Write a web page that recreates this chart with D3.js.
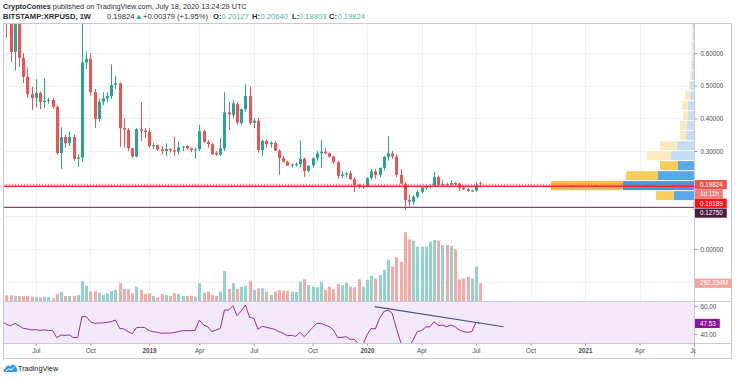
<!DOCTYPE html>
<html>
<head>
<meta charset="utf-8">
<script src="https://d3js.org/d3.v7.min.js"></script>
<style>
body { margin: 0; background: #fff; }
svg { display: block; font-family: "Liberation Sans", Arial, sans-serif; }
text { white-space: pre; }
</style>
</head>
<body>
<script>
// weekly XRPUSD bars (Bitstamp), first bar is the week of 2018-05-07
var firstWeek = "2018-05-07";
var opens = [0.86,0.78,0.70,0.603,0.70,0.585,0.527,0.474,0.462,0.478,
    0.45,0.454,0.457,0.435,0.294,0.343,0.324,0.343,0.276,0.28,
    0.571,0.582,0.48,0.398,0.451,0.461,0.468,0.502,0.507,0.37,
    0.365,0.308,0.283,0.367,0.362,0.358,0.315,0.318,0.305,0.300,
    0.306,0.302,0.298,0.311,0.315,0.308,0.303,0.305,0.361,0.328,
    0.321,0.295,0.289,0.308,0.418,0.41,0.443,0.385,0.428,0.468,
    0.386,0.393,0.303,0.331,0.321,0.325,0.301,0.278,0.267,0.255,
    0.258,0.26,0.276,0.239,0.256,0.278,0.293,0.298,0.293,0.283,
    0.266,0.224,0.228,0.232,0.213,0.196,0.19,0.193,0.217,0.237,
    0.227,0.248,0.282,0.293,0.283,0.227,0.20,0.15,0.145,0.16,
    0.175,0.188,0.19,0.193,0.22,0.196,0.199,0.197,0.202,0.20,
    0.188,0.183,0.178,0.179,0.20127];
var highs = [0.92,0.80,0.74,0.75,0.72,0.60,0.555,0.497,0.52,0.482,
    0.523,0.462,0.462,0.44,0.373,0.35,0.36,0.35,0.29,0.78,
    0.604,0.60,0.49,0.46,0.48,0.48,0.565,0.53,0.51,0.40,
    0.37,0.31,0.37,0.45,0.37,0.37,0.325,0.32,0.315,0.324,
    0.31,0.343,0.33,0.315,0.318,0.31,0.31,0.38,0.365,0.334,
    0.325,0.30,0.34,0.48,0.45,0.455,0.45,0.43,0.505,0.497,
    0.40,0.40,0.335,0.335,0.33,0.33,0.305,0.285,0.27,0.262,
    0.265,0.331,0.28,0.25,0.28,0.30,0.334,0.31,0.295,0.285,
    0.27,0.238,0.235,0.24,0.22,0.20,0.198,0.22,0.245,0.245,
    0.25,0.285,0.346,0.30,0.29,0.245,0.205,0.165,0.165,0.18,
    0.19,0.195,0.198,0.236,0.225,0.21,0.203,0.21,0.205,0.203,
    0.19,0.186,0.182,0.205,0.2064];
var lows = [0.76,0.646,0.573,0.546,0.557,0.508,0.462,0.425,0.434,0.428,
    0.432,0.445,0.43,0.288,0.245,0.31,0.315,0.27,0.252,0.267,
    0.55,0.47,0.371,0.39,0.44,0.45,0.46,0.49,0.313,0.31,
    0.30,0.28,0.28,0.33,0.34,0.31,0.305,0.30,0.29,0.285,
    0.295,0.285,0.29,0.30,0.305,0.296,0.276,0.30,0.325,0.31,
    0.288,0.285,0.285,0.30,0.364,0.40,0.38,0.38,0.42,0.38,
    0.37,0.295,0.285,0.31,0.31,0.30,0.227,0.265,0.255,0.25,
    0.252,0.25,0.22,0.235,0.25,0.27,0.248,0.29,0.28,0.26,
    0.215,0.215,0.22,0.212,0.175,0.185,0.185,0.19,0.212,0.215,
    0.22,0.24,0.27,0.275,0.22,0.20,0.119,0.13,0.135,0.155,
    0.17,0.18,0.185,0.19,0.19,0.19,0.19,0.192,0.195,0.178,
    0.18,0.175,0.175,0.176,0.18803];
var closes = [0.78,0.70,0.603,0.70,0.585,0.527,0.474,0.462,0.478,0.45,
    0.454,0.457,0.435,0.294,0.343,0.324,0.343,0.276,0.28,0.571,
    0.582,0.48,0.398,0.451,0.461,0.468,0.502,0.507,0.37,0.365,
    0.308,0.283,0.367,0.362,0.358,0.315,0.318,0.305,0.300,0.306,
    0.302,0.298,0.311,0.314,0.308,0.303,0.305,0.361,0.328,0.321,
    0.29,0.289,0.308,0.418,0.412,0.446,0.387,0.428,0.468,0.386,
    0.393,0.303,0.331,0.321,0.325,0.301,0.278,0.267,0.255,0.258,
    0.26,0.276,0.239,0.256,0.278,0.293,0.298,0.293,0.283,0.266,
    0.224,0.228,0.232,0.213,0.196,0.19,0.193,0.217,0.237,0.227,
    0.248,0.282,0.293,0.283,0.227,0.20,0.15,0.145,0.16,0.175,
    0.188,0.19,0.193,0.22,0.196,0.199,0.197,0.202,0.20,0.188,
    0.183,0.178,0.179,0.19445,0.19824];
// weekly volume, millions
var volumes = [127,94,94,83,83,77,83,72,66,61,
    72,66,44,116,149,83,83,88,99,330,
    253,160,160,138,99,127,165,182,292,198,
    193,127,237,182,116,127,83,55,116,99,
    83,127,116,83,83,88,72,292,138,154,
    99,83,154,495,198,292,198,237,248,336,
    182,209,209,154,99,154,182,171,165,154,
    149,319,358,264,237,226,319,182,237,193,
    281,264,303,237,226,358,237,347,413,374,
    429,512,677,567,721,649,1133,1018,996,897,
    897,897,979,1007,996,924,924,908,853,358,
    374,402,374,567,292.234];
var rsiValues = [48.8,46.9,46.0,47.6,46.0,44.0,43.6,42.9,43.1,42.6,
    42.9,42.6,42.4,37.4,39.3,39.0,39.3,37.4,37.6,52.4,
    52.4,48.8,47.6,47.9,47.9,48.3,48.8,50.0,44.0,43.6,
    41.7,40.2,44.5,44.8,44.5,42.4,41.7,41.2,40.5,40.7,
    40.7,41.0,41.7,42.4,42.4,42.4,42.6,50.0,46.4,45.2,
    41.7,42.9,44.0,57.1,57.1,60.2,53.1,56.4,60.7,51.9,
    51.2,43.3,45.5,44.8,44.0,43.3,41.7,40.5,38.8,39.0,
    38.3,41.2,38.1,41.2,44.5,47.6,47.6,46.4,45.2,42.9,
    37.4,37.6,38.1,36.2,36.2,32.6,32.1,39.3,44.0,43.6,
    51.2,56.0,57.1,54.8,44.0,34.5,27.4,31.0,35.7,41.7,
    42.4,45.0,45.2,48.8,46.0,46.4,45.2,46.4,45.2,42.9,
    41.7,41.2,41.7,48.3,47.53];

// visible range volume profile: rows from the bottom price upward
var profileBottom = 0.1175, profileStep = 0.0306;
var profileUp = [1,20,71,36,16,23,17,8,7.3,6,6,4,3,2,2,1.5,1.5,1,1,1,0.5,0.5,0.5,0.5];
var profileDown = [1,18,72,32,18,24,17,6,6.7,5,6,5,2,1.5,1,1,1,0.8,0.6,0.5,0.4,0.3,0.3,0.3];
var valueArea = [1, 4];

var timeTicks = [["2018-07-02","Jul"],["2018-10-01","Oct"],["2019-01-07","2019"],["2019-04-01","Apr"],
    ["2019-07-01","Jul"],["2019-10-07","Oct"],["2020-01-06","2020"],["2020-04-06","Apr"],
    ["2020-07-06","Jul"],["2020-10-05","Oct"],["2021-01-04","2021"],["2021-04-05","Apr"],["2021-07-05","Jul"]];
var priceTicks = [0.6, 0.5, 0.4, 0.3, 0.0];
var gridPrices = [0.6, 0.5, 0.4, 0.3, 0.2, 0.1, 0.0, -0.1];
var rsiTicks = [60, 40];
var alertLevel = 0.19189, supportLevel = 0.1275;
var trendPoints = [["2020-01-19", 59.5], ["2020-08-21", 45.2]];
var countdown = "1d 11h";

var upColor = "#26a69a", downColor = "#ef5350";
var plotL = 3, plotR = 694, axisEnd = 731, plotT = 23, mainB = 301, rsiB = 343, frameB = 358;

var parseDate = d3.utcParse("%Y-%m-%d");
var start = parseDate(firstWeek);
var bars = closes.map(function(c, i) {
    return { date: d3.utcDay.offset(start, 7 * i), o: opens[i], h: highs[i], l: lows[i], c: c,
        v: volumes[i], rsi: rsiValues[i] };
});

var x = d3.scaleUtc()
    .domain([parseDate("2019-01-07"), parseDate("2020-01-06")])
    .range([149, 367]);
var y = d3.scaleLinear().domain([0.3, 0.6]).range([151, 53]);
var yVol = d3.scaleLinear().domain([0, 1150]).range([mainB, 231.3]);
var yRsi = d3.scaleLinear().domain([40, 60]).range([334, 306]);
var wProf = d3.scaleLinear().domain([0, 143]).range([0, 143]);

var svg = d3.select("body").append("svg")
    .attr("width", 736)
    .attr("height", 379);

var defs = svg.append("defs");
defs.append("clipPath").attr("id", "clipMain").append("rect")
    .attr("x", plotL).attr("y", plotT).attr("width", plotR - plotL).attr("height", mainB - plotT);
defs.append("clipPath").attr("id", "clipRsi").append("rect")
    .attr("x", plotL).attr("y", mainB).attr("width", plotR - plotL).attr("height", rsiB - mainB);
defs.append("clipPath").attr("id", "clipTime").append("rect")
    .attr("x", plotL).attr("y", rsiB).attr("width", plotR + 2 - plotL).attr("height", frameB - rsiB);

// RSI band background
svg.append("g").attr("clip-path", "url(#clipRsi)")
    .append("rect")
    .attr("x", plotL).attr("width", plotR - plotL)
    .attr("y", yRsi(70)).attr("height", yRsi(30) - yRsi(70))
    .attr("fill", "#f3e8fc");

// grid
var grid = svg.append("g").attr("stroke", "#eef0f5").attr("stroke-width", 1);
grid.selectAll("line.v")
    .data(timeTicks.filter(function(d) { return x(parseDate(d[0])) < plotR - 2; }))
    .enter()
    .append("line")
    .attr("x1", function(d) { return Math.round(x(parseDate(d[0]))) + 0.5; })
    .attr("x2", function(d) { return Math.round(x(parseDate(d[0]))) + 0.5; })
    .attr("y1", plotT).attr("y2", rsiB);
grid.selectAll("line.h")
    .data(gridPrices)
    .enter()
    .append("line")
    .attr("x1", plotL).attr("x2", plotR)
    .attr("y1", function(d) { return Math.round(y(d)) + 0.5; })
    .attr("y2", function(d) { return Math.round(y(d)) + 0.5; });

var main = svg.append("g").attr("clip-path", "url(#clipMain)");

// volume
main.selectAll("rect.vol")
    .data(bars)
    .enter()
    .append("rect")
    .attr("x", function(d) { return Math.round(x(d.date)) - 1; })
    .attr("width", 3)
    .attr("y", function(d) { return yVol(d.v); })
    .attr("height", function(d) { return mainB - yVol(d.v); })
    .attr("fill", function(d) { return d.c >= d.o ? "#92d3cd" : "#f7a9a7"; });

// volume profile, anchored to the right edge
var rows = profileUp.map(function(u, i) {
    return { lo: profileBottom + i * profileStep, hi: profileBottom + (i + 1) * profileStep,
        up: u, down: profileDown[i], inVA: i >= valueArea[0] && i <= valueArea[1], poc: i == 2 };
});
main.selectAll("rect.pu")
    .data(rows)
    .enter()
    .append("rect")
    .attr("x", function(d) { return plotR - wProf(d.up); })
    .attr("width", function(d) { return wProf(d.up); })
    .attr("y", function(d) { return y(d.hi) + 0.5; })
    .attr("height", function(d) { return y(d.lo) - y(d.hi) - 1; })
    .attr("fill", function(d) {
        if (d.poc) return "#4b94df";
        return d.inVA ? "#5aa8ec" : "#c3def6";
    });
main.selectAll("rect.pd")
    .data(rows)
    .enter()
    .append("rect")
    .attr("x", function(d) { return plotR - wProf(d.up) - wProf(d.down); })
    .attr("width", function(d) { return wProf(d.down); })
    .attr("y", function(d) { return y(d.hi) + 0.5; })
    .attr("height", function(d) { return y(d.lo) - y(d.hi) - 1; })
    .attr("fill", function(d) {
        if (d.poc) return "#f8b73e";
        return d.inVA ? "#f9cd5a" : "#fce9c0";
    });

// candles
main.selectAll("line.wick")
    .data(bars)
    .enter()
    .append("line")
    .attr("x1", function(d) { return Math.round(x(d.date)) + 0.5; })
    .attr("x2", function(d) { return Math.round(x(d.date)) + 0.5; })
    .attr("y1", function(d) { return y(d.h); })
    .attr("y2", function(d) { return y(d.l); })
    .attr("stroke", function(d) { return d.c >= d.o ? upColor : downColor; })
    .attr("stroke-width", 1);
main.selectAll("rect.body")
    .data(bars)
    .enter()
    .append("rect")
    .attr("x", function(d) { return Math.round(x(d.date)) - 1; })
    .attr("width", 3)
    .attr("y", function(d) { return y(Math.max(d.o, d.c)); })
    .attr("height", function(d) { return Math.max(1, Math.abs(y(d.o) - y(d.c))); })
    .attr("fill", function(d) { return d.c >= d.o ? upColor : downColor; });

// horizontal levels
var last = bars[bars.length - 1], prev = bars[bars.length - 2];
main.append("line")
    .attr("x1", plotL).attr("x2", plotR)
    .attr("y1", y(last.c)).attr("y2", y(last.c))
    .attr("stroke", downColor).attr("stroke-dasharray", "1,2");
main.append("line")
    .attr("x1", plotL).attr("x2", plotR)
    .attr("y1", y(alertLevel)).attr("y2", y(alertLevel))
    .attr("stroke", "#f0282d").attr("stroke-width", 1.5);
main.append("line")
    .attr("x1", plotL).attr("x2", plotR)
    .attr("y1", y(supportLevel)).attr("y2", y(supportLevel))
    .attr("stroke", "#7d4a70").attr("stroke-width", 1.3);

// RSI
var rsiG = svg.append("g").attr("clip-path", "url(#clipRsi)");
rsiG.append("path")
    .datum(bars)
    .attr("d", d3.line()
        .x(function(d) { return x(d.date); })
        .y(function(d) { return yRsi(d.rsi); }))
    .attr("fill", "none")
    .attr("stroke", "#8e1599")
    .attr("stroke-width", 0.9);
rsiG.append("line")
    .attr("x1", x(parseDate(trendPoints[0][0]))).attr("y1", yRsi(trendPoints[0][1]))
    .attr("x2", x(parseDate(trendPoints[1][0]))).attr("y2", yRsi(trendPoints[1][1]))
    .attr("stroke", "#48557a").attr("stroke-width", 1.2);

// frame
var frame = svg.append("g").attr("stroke", "#c9cbd1").attr("fill", "none");
frame.append("rect").attr("x", plotL + 0.5).attr("y", plotT + 0.5)
    .attr("width", axisEnd - plotL).attr("height", frameB - plotT);
frame.append("line").attr("x1", plotR + 0.5).attr("x2", plotR + 0.5).attr("y1", plotT).attr("y2", frameB);
frame.append("line").attr("x1", plotL).attr("x2", axisEnd).attr("y1", mainB + 0.5).attr("y2", mainB + 0.5);
frame.append("line").attr("x1", plotL).attr("x2", axisEnd).attr("y1", rsiB + 0.5).attr("y2", rsiB + 0.5);

// axes
function styleAxis(g) {
    g.select(".domain").remove();
    g.selectAll("line").attr("stroke", "#9598a1");
    g.selectAll("text").attr("fill", "#4a4d57").style("font-size", "6.3px").style("font-family", "Liberation Sans, Arial, sans-serif");
}
svg.append("g")
    .attr("transform", "translate(" + (plotR + 0.5) + ",0)")
    .call(d3.axisRight(y).tickValues(priceTicks).tickFormat(d3.format(".5f")).tickSize(3).tickPadding(3))
    .call(styleAxis);
svg.append("g")
    .attr("transform", "translate(" + (plotR + 0.5) + ",0)")
    .call(d3.axisRight(yRsi).tickValues(rsiTicks).tickFormat(d3.format(".2f")).tickSize(3).tickPadding(3))
    .call(styleAxis);
var timeAxis = svg.append("g")
    .attr("clip-path", "url(#clipTime)")
    .append("g")
    .attr("transform", "translate(0," + (rsiB + 0.5) + ")")
    .call(d3.axisBottom(x)
        .tickValues(timeTicks.map(function(d) { return parseDate(d[0]); }))
        .tickFormat(function(d, i) { return timeTicks[i][1]; })
        .tickSize(2).tickPadding(3))
    .call(styleAxis);
timeAxis.selectAll("text")
    .style("font-weight", function(d, i) { return /^\d+$/.test(timeTicks[i][1]) ? "bold" : "normal"; });

// value labels on the price scale
var fmt5 = d3.format(".5f");
function axisLabel(yc, label, bg, fg) {
    var g = svg.append("g");
    var r = g.append("rect")
        .attr("x", plotR + 1).attr("y", yc - 4.6).attr("height", 9.2)
        .attr("fill", bg);
    var t = g.append("text")
        .attr("x", plotR + 6).attr("y", yc).attr("dy", "0.35em")
        .attr("fill", fg)
        .style("font-size", "6.3px")
        .text(label);
    r.attr("width", t.node().getComputedTextLength() + 9);
}
axisLabel(y(last.c) + 0.3, fmt5(last.c), "#ef5350", "#fff");
axisLabel(193.9, countdown, "#f37c79", "#fff");
axisLabel(203.3, fmt5(alertLevel), "#fb1414", "#fff");
axisLabel(213.1, fmt5(supportLevel), "#4e1a40", "#fff");
axisLabel(yVol(last.v), d3.format(".3f")(last.v) + "M", "#f5a3a0", "#fff");
axisLabel(yRsi(last.rsi), d3.format(".2f")(last.rsi), "#8e1599", "#fff");

// header
var change = last.c - prev.c;
svg.append("text")
    .attr("x", 3).attr("y", 9)
    .style("font-size", "7.3px")
    .attr("fill", "#2a2e39")
    .call(function(t) {
        t.append("tspan").style("font-weight", "bold").text("CryptoComes");
        t.append("tspan").text(" published on TradingView.com, July 18, 2020 13:24:29 UTC");
    });
// legend line, each piece at its own offset like the TradingView legend
var legend = svg.append("g").style("font-size", "7.6px").attr("fill", "#2a2e39");
function legendPart(px, txt, color, bold) {
    legend.append("text")
        .attr("x", px).attr("y", 18.5)
        .attr("fill", color || "#2a2e39")
        .style("font-weight", bold ? "bold" : "normal")
        .text(txt);
}
legendPart(3, "BITSTAMP:XRPUSD, 1W", null, true);
legendPart(107, fmt5(last.c));
legendPart(135, "▲", upColor);
legendPart(143, "+" + fmt5(change) + " (+" + d3.format(".2f")(change / prev.c * 100) + "%)");
[["O", last.o, 213], ["H", last.h, 252], ["L", last.l, 292], ["C", last.c, 329]].forEach(function(p) {
    legendPart(p[2], p[0] + ":", null, true);
    legendPart(p[2] + (p[0] == "L" ? 7 : 8.5), fmt5(p[1]), "#4fb3a6");
});

// TradingView logo
var logo = svg.append("g").attr("transform", "translate(3,363)");
logo.append("path")
    .attr("d", "M2,9 C0,9 0,5.5 2.5,5.5 C2.5,2.5 6,1.5 7.5,3.5 C9,0.5 13.5,1.5 13,5 C15,5 15,9 13,9 Z")
    .attr("fill", "#2d9cf0");
logo.append("polyline")
    .attr("points", "3,8 6,5.5 8,7 11.5,4")
    .attr("fill", "none").attr("stroke", "#fff").attr("stroke-width", 1);
svg.append("text")
    .attr("x", 18).attr("y", 371)
    .style("font-size", "7.3px")
    .attr("fill", "#131722")
    .text("TradingView");
</script>
</body>
</html>
